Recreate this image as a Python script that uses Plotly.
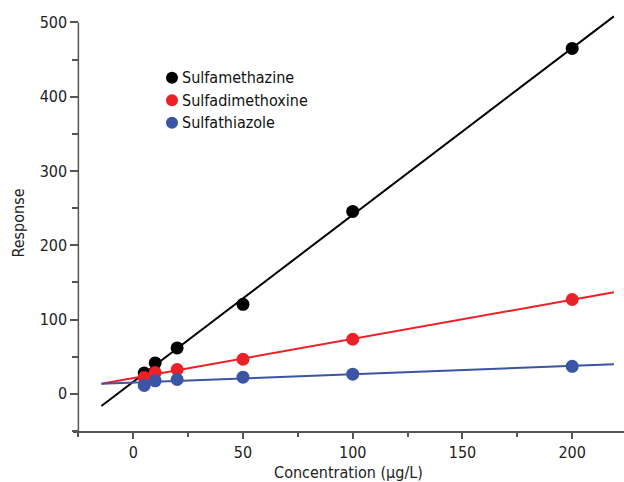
import numpy as np
import plotly.graph_objects as go

# ---- data ----
concentration = [5, 10, 20, 50, 100, 200]
sulfamethazine = [28, 41.7, 61.8, 120.5, 245.6, 465]
sulfadimethoxine = [22, 28.7, 32.8, 46.6, 73.5, 127]
sulfathiazole = [11.3, 17.5, 19.3, 22.4, 26.5, 37]
series_names = ["Sulfamethazine", "Sulfadimethoxine", "Sulfathiazole"]
series_colors = ["#000000", "#ED2027", "#3B54A4"]
fit_x_range = [-14.5, 219]
x_tick_vals = [0, 50, 100, 150, 200]
y_tick_vals = [0, 100, 200, 300, 400, 500]

FONT = "Liberation Sans Narrow, DejaVu Sans Condensed, Arial Narrow, sans-serif"

series = [sulfamethazine, sulfadimethoxine, sulfathiazole]
fig = go.Figure()

# regression lines
for name, vals, col in zip(series_names, series, series_colors):
    slope, intercept = np.polyfit(concentration, vals, 1)
    xs = np.array(fit_x_range)
    fig.add_trace(go.Scatter(x=xs, y=slope * xs + intercept, mode="lines",
                             line=dict(color=col, width=2), showlegend=False,
                             hoverinfo="skip"))

# points
for name, vals, col in zip(series_names, series, series_colors):
    fig.add_trace(go.Scatter(x=concentration, y=vals, mode="markers", name=name,
                             marker=dict(color=col, size=13, line=dict(width=0)),
                             showlegend=False))

W, H = 624, 482
ML, MR, MT, MB = 73, 0, 15, 51
x_range = [-27.45, 223.6]
y_range = [-50, 510]
y_axis_x = -25
ypos = (y_axis_x - x_range[0]) / (x_range[1] - x_range[0])
AX = "#555"

fig.update_layout(
    width=W, height=H,
    margin=dict(l=ML, r=MR, t=MT, b=MB),
    paper_bgcolor="white", plot_bgcolor="white",
    font=dict(family=FONT, size=16, color="#222"),
    xaxis=dict(range=x_range, tickvals=x_tick_vals, showgrid=False, zeroline=False,
               automargin=False,
               showline=True, linecolor=AX, linewidth=1.5,
               ticks="outside", ticklen=6, tickwidth=1.5, tickcolor=AX,
               minor=dict(dtick=25, tick0=-25, ticks="outside", ticklen=4,
                          tickwidth=1.5, tickcolor=AX, showgrid=False),
               tickfont=dict(family=FONT, size=16, color="#222"),
               title=dict(text="Concentration (µg/L)", standoff=6,
                          font=dict(family=FONT, size=16, color="#222"))),
    yaxis=dict(range=y_range, tickvals=y_tick_vals, showgrid=False, zeroline=False,
               automargin=False,
               anchor="free", position=ypos,
               showline=False,
               ticks="outside", ticklen=8, tickwidth=1.5, tickcolor=AX,
               minor=dict(dtick=50, tick0=-50, ticks="outside", ticklen=6,
                          tickwidth=1.5, tickcolor=AX, showgrid=False),
               tickfont=dict(family=FONT, size=16, color="#222"),
               title=dict(text="Response", standoff=10,
                          font=dict(family=FONT, size=16, color="#222"))),
)

# y-axis spine, ending at the top tick
fig.add_shape(type="line", xref="x", yref="y", x0=y_axis_x, x1=y_axis_x,
              y0=y_range[0], y1=y_tick_vals[-1], line=dict(color=AX, width=1.5),
              layer="above")

# manual legend (markers + labels)
leg_x_px = 172
leg_y_px = [77.7, 100.2, 122.7]
pw = W - ML - MR
ph = H - MT - MB
for name, col, ypx in zip(series_names, series_colors, leg_y_px):
    xp = (leg_x_px - ML) / pw
    yp = 1 - (ypx - MT) / ph
    fig.add_shape(type="circle", xref="paper", yref="paper",
                  xsizemode="pixel", ysizemode="pixel",
                  xanchor=xp, yanchor=yp, x0=-6, x1=6, y0=-6, y1=6,
                  fillcolor=col, line=dict(width=0))
    fig.add_annotation(xref="paper", yref="paper", x=(180 - ML) / pw, y=yp,
                       xanchor="left", yanchor="middle", text=name, showarrow=False,
                       font=dict(family=FONT, size=16, color="#111"))

fig.write_html("out.html", config={"displayModeBar": False},
               post_script="document.body.style.margin='0';document.body.style.overflow='hidden';")
